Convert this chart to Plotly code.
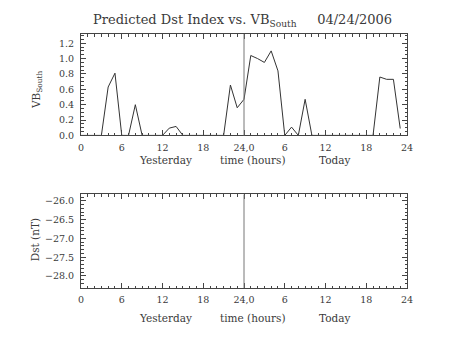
import plotly.graph_objects as go

# Hourly VB_South over the two days (yesterday 0-23, today 24-47)
hours = list(range(48))
vb_south = [0, 0, 0, 0, 0.63, 0.81, 0, 0, 0.40, 0, 0, 0,
            0, 0.095, 0.117, 0, 0, 0, 0, 0, 0, 0, 0.656, 0.36,
            0.47, 1.04, 1.0, 0.95, 1.10, 0.84, 0, 0.108, 0, 0.47, 0, 0,
            0, 0, 0, 0, 0, 0, 0, 0, 0.76, 0.73, 0.73, 0.09]

x_tickvals = [0, 6, 12, 18, 24, 30, 36, 42, 48]
x_ticktext = ["0", "6", "12", "18", "24,0", "6", "12", "18", "24"]
vb_ticks = [0.0, 0.2, 0.4, 0.6, 0.8, 1.0, 1.2]
dst_ticks = [-28.0, -27.5, -27.0, -26.5, -26.0]

FONT = "DejaVu Serif"
INK = "#3a3a3a"
AX = "#444444"
W, H = 453, 340
MT, MB = 34, 52.3
PH = H - MT - MB


def py(pix):
    return (H - MB - pix) / PH


fig = go.Figure()
fig.add_trace(go.Scatter(x=hours, y=vb_south, mode="lines",
                         line=dict(color="#333333", width=1),
                         xaxis="x", yaxis="y", showlegend=False))

common_x = dict(range=[0, 48], tickvals=x_tickvals, ticktext=x_ticktext,
                ticks="inside", ticklen=5, tickcolor=AX, mirror="ticks",
                showline=True, linecolor=AX, linewidth=1, showgrid=False,
                zeroline=False, ticklabelstandoff=3,
                tickfont=dict(family=FONT, size=9.5, color=INK),
                minor=dict(dtick=1, tick0=0, ticks="inside", ticklen=2.5,
                           tickcolor=AX, showgrid=False))
common_y = dict(ticks="inside", ticklen=5, tickcolor=AX, mirror="ticks",
                showline=True, linecolor=AX, linewidth=1, showgrid=False,
                zeroline=False, ticklabelstandoff=4,
                tickfont=dict(family=FONT, size=9.5, color=INK))

fig.update_layout(
    width=W, height=H,
    margin=dict(l=81, r=46, t=MT, b=MB),
    paper_bgcolor="white", plot_bgcolor="white",
    xaxis=dict(**common_x, domain=[0, 1], anchor="y"),
    yaxis=dict(**common_y, domain=[py(135.3), 1], anchor="x",
               range=[0, 1.32], tickvals=vb_ticks,
               ticktext=[f"{v:.1f}" for v in vb_ticks],
               minor=dict(dtick=0.05, tick0=0, ticks="inside", ticklen=2.5,
                          tickcolor=AX, showgrid=False)),
    xaxis2=dict(**common_x, domain=[0, 1], anchor="y2"),
    yaxis2=dict(**common_y, domain=[0, py(194.3)], anchor="x2",
                range=[-28.32, -25.83], tickvals=dst_ticks,
                ticktext=[f"{v:.1f}".replace("-", "\u2212") for v in dst_ticks],
                minor=dict(dtick=0.1, tick0=0, ticks="inside", ticklen=2.5,
                           tickcolor=AX, showgrid=False)),
)

# Day boundary markers
for xr, yr in (("x", "y domain"), ("x2", "y2 domain")):
    fig.add_shape(type="line", xref=xr, yref=yr, x0=24, x1=24, y0=0, y1=1,
                  line=dict(color="#777777", width=1))

txt = dict(family=FONT, size=10.5, color=INK)
fig.add_annotation(text="Predicted Dst Index vs. VB<sub>South</sub>     04/24/2006",
                   xref="paper", yref="paper", x=0.495, y=py(21),
                   showarrow=False, font=dict(family=FONT, size=13, color=INK),
                   xanchor="center", yanchor="middle")

for base in (159.5, 317.5):
    for label, xv in (("Yesterday", 12.4), ("time (hours)", 25.3), ("Today", 37.3)):
        fig.add_annotation(text=label, xref="x", yref="paper", x=xv, y=py(base),
                           showarrow=False, font=txt, xanchor="center",
                           yanchor="middle")

fig.add_annotation(text="VB<sub>South</sub>", xref="paper", yref="paper",
                   x=(37 - 81) / (W - 81 - 46), y=py(90), textangle=-90,
                   showarrow=False, font=txt, xanchor="center", yanchor="middle")
fig.add_annotation(text="Dst (nT)", xref="paper", yref="paper",
                   x=(35 - 81) / (W - 81 - 46), y=py(240), textangle=-90,
                   showarrow=False, font=txt, xanchor="center", yanchor="middle")

fig.write_html("out.html")
